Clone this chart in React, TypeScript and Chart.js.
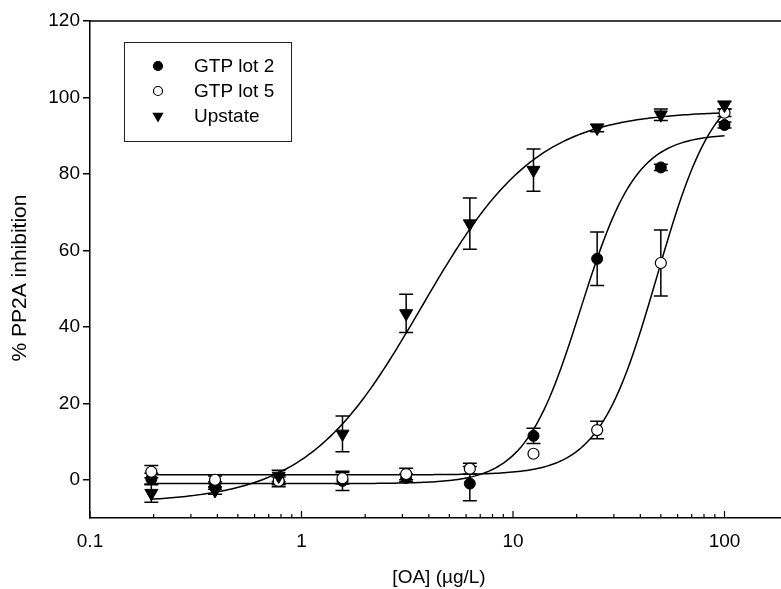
import { useEffect, useRef } from "react";
import { Chart, registerables } from "chart.js";

Chart.register(...registerables);

// OA concentrations (µg/L)
const concentrations = [0.195, 0.39, 0.78, 1.5625, 3.125, 6.25, 12.5, 25, 50, 100];

// % PP2A inhibition, mean and error (±)
const lot2Mean = [0.2, -1.5, -0.3, -0.3, 0.5, -1.0, 11.5, 57.8, 81.7, 92.8];
const lot2Err = [1.5, 1.0, 1.5, 2.5, 1.0, 4.5, 2.0, 7.0, 0.8, 0.8];
const lot5Mean = [2.1, 0.0, -0.3, 0.4, 1.5, 2.9, 6.8, 13.0, 56.7, 96.0];
const lot5Err = [1.6, 1.0, 1.0, 1.5, 1.5, 1.4, 0, 2.3, 8.6, 1.0];
const upstateMean = [-3.5, -2.8, 1.0, 12.0, 43.5, 67.0, 81.0, 92.0, 95.5, 98.0];
const upstateErr = [2.4, 1.0, 1.5, 4.7, 5.0, 6.7, 5.5, 1.0, 1.5, 1.0];

// Four-parameter logistic fits: [bottom, top, EC50, Hill slope]
const lot2Fit = [-1.0, 90.5, 20.9, 3.3];
const lot5Fit = [1.3, 105.3, 48.0, 3.17];
const upstateFit = [-6.0, 96.5, 3.7, 1.6];

const seriesNames = ["GTP lot 2", "GTP lot 5", "Upstate"];
const yTickValues = [0, 20, 40, 60, 80, 100, 120];
const xDecades = [0.1, 1, 10, 100];

const FONT = "'Liberation Sans', Arial, Helvetica, sans-serif";

function logistic(p: number[], x: number) {
  const [bottom, top, ec50, hill] = p;
  return bottom + (top - bottom) / (1 + Math.pow(x / ec50, -hill));
}

function fitCurve(p: number[]) {
  const pts: { x: number; y: number }[] = [];
  const lo = Math.log10(concentrations[0]);
  const hi = Math.log10(concentrations[concentrations.length - 1]);
  const n = 200;
  for (let i = 0; i <= n; i++) {
    const x = Math.pow(10, lo + ((hi - lo) * i) / n);
    pts.push({ x, y: logistic(p, x) });
  }
  return pts;
}

function toPoints(mean: number[]) {
  return concentrations.map((x, i) => ({ x, y: mean[i] }));
}

function drawMarker(
  ctx: CanvasRenderingContext2D,
  kind: string,
  x: number,
  y: number,
  r: number
) {
  ctx.save();
  ctx.strokeStyle = "#000";
  ctx.lineWidth = 1.2;
  ctx.beginPath();
  if (kind === "filled" || kind === "open") {
    ctx.arc(x, y, r, 0, Math.PI * 2);
    ctx.fillStyle = kind === "filled" ? "#000" : "#fff";
    ctx.fill();
    ctx.stroke();
  } else {
    ctx.moveTo(x - r * 0.866, y - r * 0.5);
    ctx.lineTo(x + r * 0.866, y - r * 0.5);
    ctx.lineTo(x, y + r);
    ctx.closePath();
    ctx.fillStyle = "#000";
    ctx.fill();
  }
  ctx.restore();
}

const errorBarsPlugin = {
  id: "errorBars",
  beforeDatasetsDraw(chart: any) {
    const { ctx } = chart;
    const xs = chart.scales.x;
    const ys = chart.scales.y;
    const groups = [
      [lot2Mean, lot2Err],
      [lot5Mean, lot5Err],
      [upstateMean, upstateErr],
    ];
    ctx.save();
    ctx.strokeStyle = "#000";
    ctx.lineWidth = 1.5;
    for (const [mean, err] of groups) {
      concentrations.forEach((c, i) => {
        if (!err[i]) return;
        const px = xs.getPixelForValue(c);
        const yTop = ys.getPixelForValue(mean[i] + err[i]);
        const yBot = ys.getPixelForValue(mean[i] - err[i]);
        ctx.beginPath();
        ctx.moveTo(px, yTop);
        ctx.lineTo(px, yBot);
        ctx.moveTo(px - 7, yTop);
        ctx.lineTo(px + 7, yTop);
        ctx.moveTo(px - 7, yBot);
        ctx.lineTo(px + 7, yBot);
        ctx.stroke();
      });
    }
    ctx.restore();
  },
};

const framePlugin = {
  id: "frame",
  afterDraw(chart: any) {
    const { ctx, chartArea } = chart;
    const xs = chart.scales.x;
    ctx.save();
    ctx.strokeStyle = "#000";
    ctx.lineWidth = 1.5;

    // top border
    ctx.beginPath();
    ctx.moveTo(chartArea.left, chartArea.top);
    ctx.lineTo(chartArea.right, chartArea.top);
    ctx.stroke();

    // log-axis tick marks pointing into the plot
    ctx.lineWidth = 1.2;
    ctx.beginPath();
    for (const d of xDecades) {
      for (let m = 1; m <= 9; m++) {
        const v = d * m;
        if (v > xs.max) continue;
        const px = xs.getPixelForValue(v);
        const len = m === 1 ? 7 : 4;
        ctx.moveTo(px, chartArea.bottom);
        ctx.lineTo(px, chartArea.bottom - len);
      }
    }
    ctx.stroke();

    // legend
    ctx.lineWidth = 1;
    ctx.strokeStyle = "#222";
    ctx.strokeRect(124.5, 42.5, 167, 99);
    const kinds = ["filled", "open", "triangle"];
    const rows = [66, 91, 116];
    ctx.font = `19px ${FONT}`;
    ctx.fillStyle = "#000";
    ctx.textBaseline = "middle";
    ctx.textAlign = "left";
    kinds.forEach((k, i) => {
      drawMarker(ctx, k, 158, rows[i], k === "triangle" ? 6.5 : 4.5);
      ctx.fillStyle = "#000";
      ctx.fillText(seriesNames[i], 194, rows[i] + 1);
    });

    // axis titles
    ctx.textAlign = "center";
    ctx.fillText("[OA] (µg/L)", 439, 578);
    ctx.save();
    ctx.font = `21px ${FONT}`;
    ctx.translate(20, 278);
    ctx.rotate(-Math.PI / 2);
    ctx.fillText("% PP2A inhibition", 0, 0);
    ctx.restore();

    ctx.restore();
  },
};

export default function App() {
  const canvasRef = useRef<HTMLCanvasElement | null>(null);

  useEffect(() => {
    const canvas = canvasRef.current;
    if (!canvas) return;
    Chart.defaults.font.family = FONT;
    const chart = new Chart(canvas, {
      type: "scatter",
      data: {
        datasets: [
          {
            label: seriesNames[2],
            data: toPoints(upstateMean),
            pointStyle: "triangle",
            pointRotation: 180,
            pointRadius: 7.5,
            backgroundColor: "#000",
            borderColor: "#000",
            borderWidth: 1,
            showLine: false,
          },
          {
            label: seriesNames[1],
            data: toPoints(lot5Mean),
            pointStyle: "circle",
            pointRadius: 5.5,
            backgroundColor: "#fff",
            borderColor: "#000",
            borderWidth: 1.2,
            showLine: false,
          },
          {
            label: seriesNames[0],
            data: toPoints(lot2Mean),
            pointStyle: "circle",
            pointRadius: 5.5,
            backgroundColor: "#000",
            borderColor: "#000",
            borderWidth: 1,
            showLine: false,
          },
          {
            type: "line",
            label: "Upstate fit",
            data: fitCurve(upstateFit),
            borderColor: "#000",
            borderWidth: 1.5,
            pointRadius: 0,
            tension: 0,
          },
          {
            type: "line",
            label: "GTP lot 5 fit",
            data: fitCurve(lot5Fit),
            borderColor: "#000",
            borderWidth: 1.5,
            pointRadius: 0,
            tension: 0,
          },
          {
            type: "line",
            label: "GTP lot 2 fit",
            data: fitCurve(lot2Fit),
            borderColor: "#000",
            borderWidth: 1.5,
            pointRadius: 0,
            tension: 0,
          },
        ] as any,
      },
      options: {
        animation: false,
        responsive: false,
        devicePixelRatio: 1,
        layout: { autoPadding: false, padding: { top: 21, right: 0, left: 0, bottom: 0 } },
        plugins: {
          legend: { display: false },
          tooltip: { enabled: false },
        },
        scales: {
          x: {
            type: "logarithmic",
            position: "bottom",
            min: 0.1,
            max: 185,
            grid: { display: false, drawTicks: false },
            border: { display: true, color: "#000", width: 1.5 },
            ticks: {
              color: "#000",
              font: { size: 19 },
              padding: 12,
              autoSkip: false,
              maxRotation: 0,
              callback: (v: any) => {
                const n = Number(v);
                return xDecades.some((d) => Math.abs(d - n) < d * 1e-6)
                  ? String(n)
                  : "";
              },
            },
            afterFit: (s: any) => {
              s.height = 71;
              s.paddingLeft = 0;
              s.paddingRight = 0;
            },
          },
          y: {
            min: -10,
            max: 120,
            grid: {
              drawOnChartArea: false,
              drawTicks: true,
              tickLength: 7,
              color: "#000",
              lineWidth: 1.5,
            },
            border: { display: true, color: "#000", width: 1.5 },
            ticks: {
              color: "#000",
              font: { size: 19 },
              padding: 3,
            },
            afterBuildTicks: (s: any) => {
              s.ticks = yTickValues.map((value) => ({ value }));
            },
            afterFit: (s: any) => {
              s.width = 90;
            },
          },
        },
      },
      plugins: [errorBarsPlugin, framePlugin],
    });
    return () => chart.destroy();
  }, []);

  return (
    <div style={{ position: "fixed", left: 0, top: 0, width: 781, height: 589, background: "#fff" }}>
      <canvas ref={canvasRef} width={781} height={589} style={{ display: "block" }} />
    </div>
  );
}
